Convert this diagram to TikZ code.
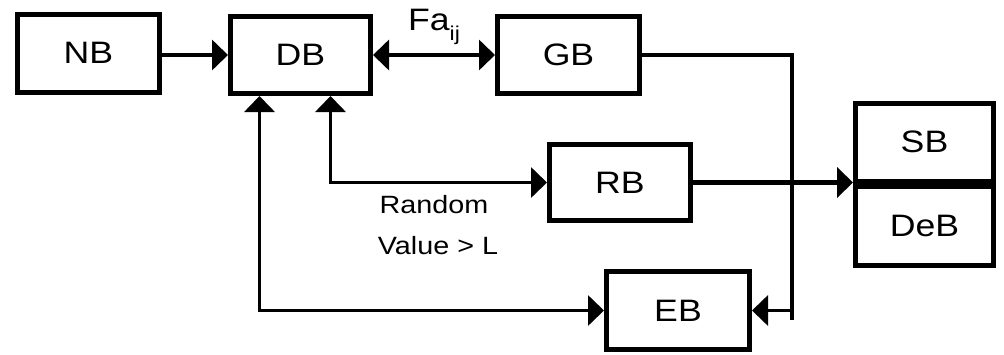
\documentclass[tikz,border=0pt]{standalone}
\usepackage{fontspec}
\setmainfont{Liberation Sans}[FakeStretch=1.15]
\usetikzlibrary{arrows.meta}
\tikzset{
  blk/.style={draw, line width=5pt, rectangle, inner sep=0pt,
    font=\fontsize{31}{31}\selectfont},
  tip/.tip={Triangle[length=16pt,width=30pt]},
  link/.style={line width=3.5pt, -tip},
  both/.style={line width=3.5pt, tip-tip},
  heavy/.style={line width=4.5pt},
  lbl/.style={font=\fontsize{25}{25}\selectfont, inner sep=0pt},
}
\begin{document}
\begin{tikzpicture}[x=1pt,y=-1pt]
\useasboundingbox (0,0) rectangle (1004,354);
% blocks
\node[blk, minimum width=142, minimum height=78] (nb) at (88.5,53) {NB};
\node[blk, minimum width=140, minimum height=77] (db) at (300.5,55) {DB};
\node[blk, minimum width=142, minimum height=77] (gb) at (568.5,55) {GB};
\node[blk, minimum width=141, minimum height=76] (rb) at (620,182.5) {RB};
\node[blk, minimum width=143, minimum height=78] (eb) at (678,310.5) {EB};
\node[blk, minimum width=138, minimum height=78] (sb) at (924.5,142) {SB};
\node[blk, minimum width=138, minimum height=79.5, anchor=north] (deb) at (sb.south) {DeB};
% junction of the GB feedback line
\coordinate (jtop) at (792,55);
\coordinate (jbot) at (792,320);
% connectors
\draw[link] (nb.east |- db.west) -- (db.west);
\draw[both] (db.east) -- (gb.west)
  node[midway, above=9pt, inner sep=0pt, font=\fontsize{31}{31}\selectfont]
  {Fa\raisebox{-0.32em}{\fontsize{20}{20}\selectfont ij}};
\draw[heavy] (gb.east) -- (jtop) -- (jbot);
\draw[link] (jbot |- eb.east) -- (eb.east);
\draw[link, line width=4.5pt] (rb.east) -- (rb.east -| sb.west);
\draw[both] ([xshift=31.5pt]db.south west) |- (eb.west);
\draw[both] ([xshift=102.5pt]db.south west) |- (rb.west);
% condition label
\node[lbl, anchor=base] (c1) at (434,213) {Random};
\node[lbl, anchor=base] (c2) at (438,254) {Value > L};
\end{tikzpicture}
\end{document}
